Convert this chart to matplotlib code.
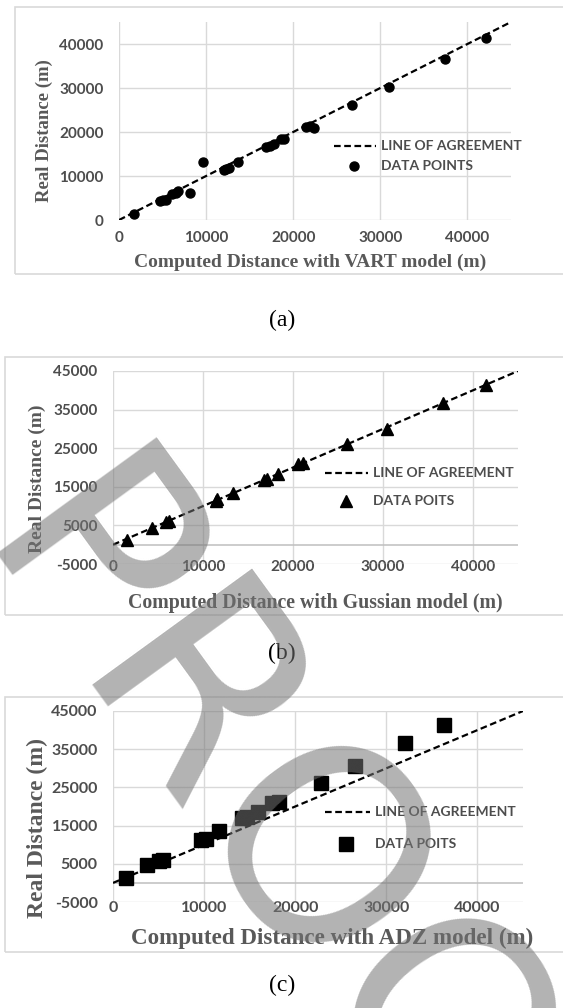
import matplotlib
matplotlib.use("Agg")
import matplotlib.pyplot as plt
from matplotlib.patches import Rectangle
from matplotlib.lines import Line2D

# ---------------- data ----------------
agree_x = [0, 45000]
agree_y = [0, 45000]

vart_x = [1700, 4700, 5000, 5400, 6100, 6500, 6800, 8200, 9700, 12000, 12300, 12600,
          13700, 16900, 17300, 17800, 18600, 18900, 21500, 21900, 22400, 26700, 31000,
          37400, 42100]
vart_y = [1300, 4400, 4600, 4600, 5800, 6200, 6500, 6200, 13100, 11400, 11600, 11800,
          13100, 16600, 16900, 17200, 18300, 18500, 21100, 21300, 20900, 26100, 30300,
          36700, 41300]

gauss_x = [1500, 4300, 5900, 6200, 11400, 11600, 13300, 16800, 17100, 18300, 20600,
           21100, 26000, 30400, 36700, 41400]
gauss_y = [1200, 4400, 5900, 6100, 11400, 11800, 13300, 16700, 17000, 18300, 20900,
           21100, 26100, 30000, 36800, 41400]

adz_x = [1400, 3700, 5100, 5500, 9700, 10200, 11600, 14200, 14700, 15900, 17500,
         18200, 22800, 26600, 32100, 36300]
adz_y = [1400, 4700, 5800, 6000, 11300, 11500, 13500, 17000, 17200, 18500, 21000,
         21300, 26200, 30500, 36500, 41400]

ticks_a_x = [0, 10000, 20000, 30000, 40000]
ticks_a_y = [0, 10000, 20000, 30000, 40000]
ticks_bc_x = [0, 10000, 20000, 30000, 40000]
ticks_bc_y = [-5000, 5000, 15000, 25000, 35000, 45000]

xlabels = ["Computed Distance with VART model (m)",
           "Computed Distance with Gussian model (m)",
           "Computed Distance with ADZ model (m)"]
ylabel = "Real Distance (m)"
legend_line = "LINE OF AGREEMENT"
legend_pts = ["DATA POINTS", "DATA POITS", "DATA POITS"]
captions = ["(a)", "(b)", "(c)"]

# ---------------- layout ----------------
W, H = 563, 1008
fig = plt.figure(figsize=(W / 100, H / 100), dpi=100)

def fx(px):
    return px / W

def fy(py):
    return 1 - py / H

def add_ax(left, right, top, bottom):
    return fig.add_axes([fx(left), fy(bottom), (right - left) / W, (bottom - top) / H])

GRID = "#d9d9d9"
TXT = "#4d4d4d"
TICKFONT = "Lato"
SERIF = "Liberation Serif"

# frames
for (t, b) in [(7, 274), (357, 615), (697, 952)]:
    left = 15 if t == 7 else 5
    fig.patches.append(Rectangle((fx(left), fy(b)), 1.2, (b - t) / H, transform=fig.transFigure,
                                 fill=False, edgecolor=GRID, linewidth=1.2, zorder=0))

def style_ax(ax, xt, yt, xlim, ylim, xpad, ypad, tsize):
    ax.set_xlim(*xlim)
    ax.set_ylim(*ylim)
    ax.set_xticks(xt)
    ax.set_yticks(yt)
    ax.set_xticklabels([str(v) for v in xt])
    ax.set_yticklabels([str(v) for v in yt])
    for s in ax.spines.values():
        s.set_visible(False)
    ax.grid(True, color=GRID, linewidth=1.0, zorder=0)
    ax.set_axisbelow(True)
    ax.tick_params(length=0, colors=TXT, labelsize=tsize)
    ax.tick_params(axis="x", pad=xpad)
    ax.tick_params(axis="y", pad=ypad)
    for lab in ax.get_xticklabels() + ax.get_yticklabels():
        lab.set_fontfamily(TICKFONT)
        lab.set_fontweight("bold")
        lab.set_color(TXT)
    ax.patch.set_alpha(0)

DASH = (0, (3, 1.6))

# panel (a)
axa = add_ax(119, 511, 22, 220)
style_ax(axa, ticks_a_x, ticks_a_y, (0, 45000), (0, 45000), 8, 11, 11)
axa.plot(agree_x, agree_y, color="black", linestyle=DASH, linewidth=1.6, zorder=3)
axa.plot(vart_x, vart_y, linestyle="none", marker="o", color="black", markersize=6.5, zorder=4)

# panel (b)
axb = add_ax(113, 518, 371, 564)
style_ax(axb, ticks_bc_x, ticks_bc_y, (0, 45000), (-5000, 45000), -3, 11, 11)
axb.axhline(0, color="#bfbfbf", linewidth=1.1, zorder=1)
axb.plot(agree_x, agree_y, color="black", linestyle=DASH, linewidth=1.6, zorder=3)
axb.plot(gauss_x, gauss_y, linestyle="none", marker="^", color="black", markersize=9, zorder=4)

# panel (c)
axc = add_ax(113, 523, 711, 902)
style_ax(axc, ticks_bc_x, ticks_bc_y, (0, 45000), (-5000, 45000), -1, 11, 11.5)
axc.axhline(0, color="#bfbfbf", linewidth=1.1, zorder=1)
axc.plot(agree_x, agree_y, color="black", linestyle=DASH, linewidth=1.6, zorder=3)
axc.plot(adz_x, adz_y, linestyle="none", marker="s", color="black", markersize=9.5, zorder=4)

# axis labels
lab_pos = [((310, 262), (44, 131), 14, 13.5),
           ((315, 603), (37, 479), 14.3, 14),
           ((332, 938), (37, 828), 16.6, 17)]
for i, ((xx, xy), (yx, yy), fsx, fsy) in enumerate(lab_pos):
    fig.text(fx(xx), fy(xy), xlabels[i], ha="center", va="center", fontfamily=SERIF,
             fontweight="bold", color="#595959", fontsize=fsx)
    fig.text(fx(yx), fy(yy), ylabel, ha="center", va="center", rotation=90, fontfamily=SERIF,
             fontweight="bold", color="#595959", fontsize=fsy)

# legends
leg_pos = [((334, 376, 146), (354, 166), "o", 6.5),
           ((325, 368, 473), (346, 501), "^", 9),
           ((325, 370, 812), (346, 844), "s", 9.5)]
for i, ((x0, x1, ly), (mx, my), mk, ms) in enumerate(leg_pos):
    fig.lines.append(Line2D([fx(x0), fx(x1)], [fy(ly), fy(ly)], transform=fig.transFigure,
                            color="black", linestyle=DASH, linewidth=1.6))
    fig.lines.append(Line2D([fx(mx)], [fy(my)], transform=fig.transFigure, color="black",
                            marker=mk, markersize=ms, linestyle="none"))
    fig.text(fx(x1 + 5), fy(ly), legend_line, ha="left", va="center", fontfamily=TICKFONT,
             fontweight="bold", color=TXT, fontsize=10)
    fig.text(fx(x1 + 5), fy(my), legend_pts[i], ha="left", va="center", fontfamily=TICKFONT,
             fontweight="bold", color=TXT, fontsize=10)

# captions
for cap, cy in zip(captions, [320, 653, 985]):
    fig.text(fx(282), fy(cy), cap, ha="center", va="center", fontfamily=SERIF,
             color="black", fontsize=17)

# watermark
fig.text(fx(304), fy(886), "PROOF", ha="center", va="center", rotation=-54,
         rotation_mode="anchor", fontfamily="DejaVu Sans", fontsize=195,
         color="#747474", alpha=0.55, zorder=10)

fig.savefig("out.png", dpi=100)
